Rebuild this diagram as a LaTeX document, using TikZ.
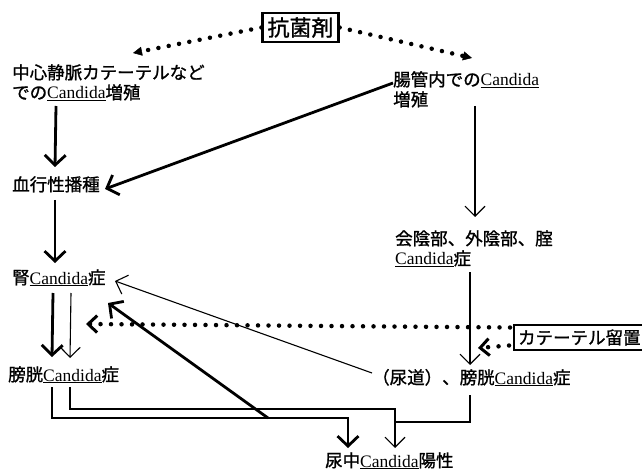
\documentclass[tikz,border=0pt]{standalone}
\usepackage{fontspec}
\setmainfont{Liberation Serif}
\newfontfamily\jp[FakeBold=1.2]{Noto Sans CJK JP}
\usetikzlibrary{arrows.meta}
\newcommand\cand{{\rmfamily\underline{Candida}}}
\begin{document}
\begin{tikzpicture}[x=1pt,y=-1pt,
  txt/.style={inner sep=0pt, anchor=base west, align=left, font=\jp\fontsize{17.5pt}{20pt}\selectfont},
  boxnode/.style={draw, line width=2.2pt, inner ysep=2pt, inner xsep=4pt},
  thickar/.style={line width=2.8pt, -{Straight Barb[length=10pt,width=21pt]}},
  thinar/.style={line width=1.1pt, -{Straight Barb[length=10pt,width=20pt]}},
  thinln/.style={line width=1.1pt},
  dotline/.style={line width=4.5pt, line cap=round, dash pattern=on 0pt off 10.5pt},
  tri/.style={-{Triangle[length=9pt,width=9pt,line width=0.5pt]}},
  chev/.style={-{Straight Barb[length=9pt,width=17pt,line width=3pt]}}
]
\useasboundingbox (0,0) rectangle (642,470);

% nodes (base anchor = baseline of the last line)
\node[boxnode, font=\jp\fontsize{22pt}{22pt}\selectfont, minimum width=76pt, minimum height=29pt] (kou) at (300.5,27.5) {抗菌剤};
\node[txt] (n1) at (12,99) {中心静脈カテーテルなど\\での\cand 増殖};
\node[txt] (n2) at (393,106) {腸管内での\cand\\増殖};
\node[txt] (n3) at (12,191) {血行性播種};
\node[txt] (n4) at (12,284) {腎\cand 症};
\node[txt] (n5) at (395,265) {会陰部、外陰部、腟\\\cand 症};
\node[txt] (n6) at (8,381) {膀胱\cand 症};
\node[txt] (n7) at (372,384) {（尿道）、膀胱\cand 症};
\node[txt] (n8) at (325,467) {尿中\cand 陽性};
\node[boxnode, anchor=west, font=\jp\fontsize{17.5pt}{20pt}\selectfont, minimum height=25pt] (kat) at (513,337.5) {カテーテル留置};

% dotted arrows from the antibiotic box
\draw[dotline, tri] (kou.west) -- ([shift={(121,-46)}]n1.base west);
\draw[dotline, tri] (kou.east) -- ([shift={(79,-48)}]n2.base west);

% main flow
\draw[thickar] ([shift={(44,7)}]n1.base west) -- ([shift={(43,-24)}]n3.base west);
\draw[thickar] ([shift={(0,-23)}]n2.base west) -- ([shift={(93,-2)}]n3.base west);
\draw[thickar] ([shift={(43,9)}]n3.base west) -- ([shift={(43,-21)}]n4.base west);
\draw[thinar] ([shift={(82,0)}]n2.base west) -- ([shift={(80,-48)}]n5.base west);
\draw[thinar] ([shift={(75,7)}]n5.base west) -- ([shift={(98,-19)}]n7.base west);
\draw[thickar] ([shift={(41,9)}]n4.base west) -- ([shift={(44,-24)}]n6.base west);
\draw[thinar] ([shift={(59,9)}]n4.base west) -- ([shift={(62,-23)}]n6.base west);
\draw[thinar] ([shift={(0,-11)}]n7.base west) -- ([shift={(103,-3)}]n4.base west);

% to urine
\draw[thickar] ([shift={(44,6)}]n6.base west) |- ([shift={(23,-49)}]n8.base west) -- ([shift={(23,-19)}]n8.base west);
\draw[thinar] ([shift={(62,6)}]n6.base west) |- ([shift={(70,-58)}]n8.base west) -- ([shift={(70,-19)}]n8.base west);
\draw[thinln] ([shift={(98,11)}]n7.base west) |- ([shift={(70,-45)}]n8.base west);
\coordinate (bus) at (268,418);
\draw[thickar] (bus) -- ([shift={(96,19)}]n4.base west);

% catheter dotted arrows
\draw[dotline, chev] ([shift={(-3,-10)}]kat.west) -- ([shift={(78,-57)}]n6.base west);
\draw[dotline, chev] ([shift={(-4,8)}]kat.west) -- ([shift={(106,-36)}]n7.base west);
\end{tikzpicture}
\end{document}
